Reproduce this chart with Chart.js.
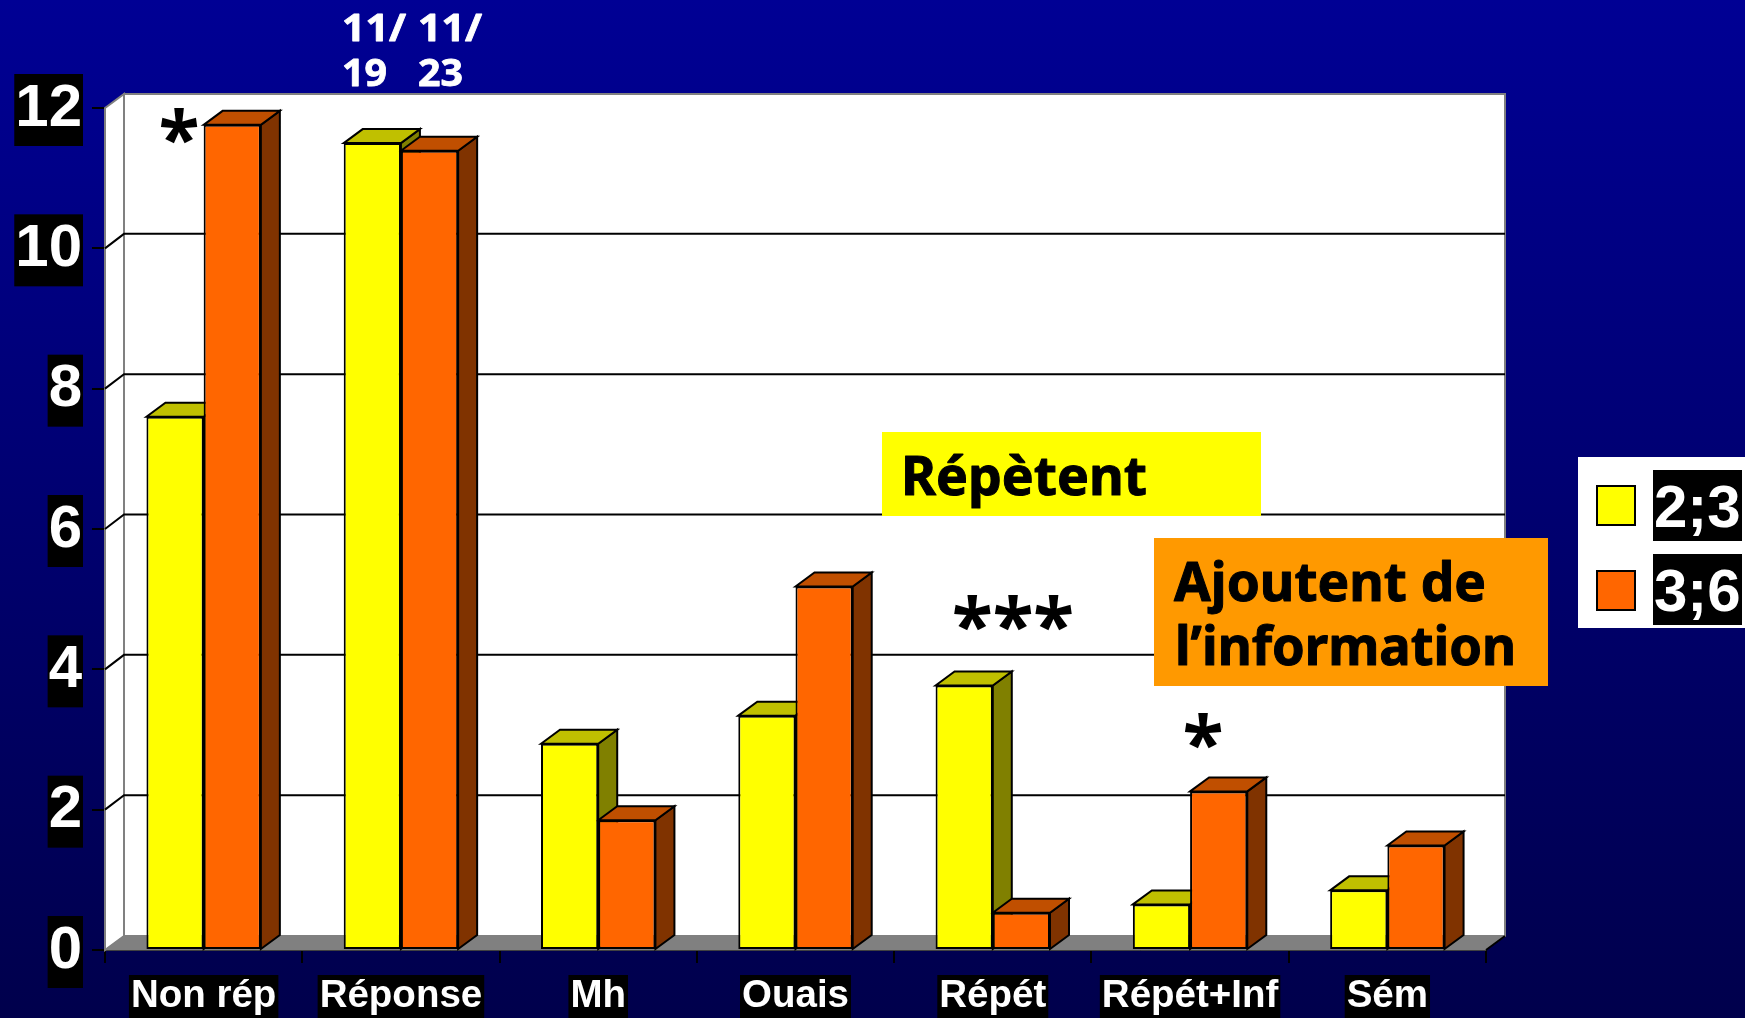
<!DOCTYPE html>
<html lang="fr">
<head>
<meta charset="utf-8">
<title>Répètent / Ajoutent de l'information</title>
<script src="https://cdn.jsdelivr.net/npm/chart.js@4"></script>
<style>
html,body{margin:0;padding:0;width:1745px;height:1018px;overflow:hidden;background:linear-gradient(180deg,#000094 0%,#00004c 100%);}
canvas{display:block;}
</style>
</head>
<body>
<canvas id="c" width="1745" height="1018"></canvas>
<script>
const categories = ['Non rép','Réponse','Mh','Ouais','Répét','Répét+Inf','Sém'];
const seriesNames = ['2;3','3;6'];
const values23 = [7.6,11.5,2.94,3.34,3.77,0.65,0.85];
const values36 = [11.76,11.39,1.85,5.18,0.53,2.26,1.49];
const yTicks = [0,2,4,6,8,10,12];

const YELLOW = {front:'#ffff00',top:'#c0c000',side:'#808000'};
const ORANGE = {front:'#ff6600',top:'#c04f00',side:'#803300'};
const DX = 19, DY = 14, GRID_DY = 14.5;
const ARIAL = '"Liberation Sans", Arial, sans-serif';
const TAHOMA = '"Noto Sans", sans-serif';

function poly(ctx, pts, fill, stroke, lw){
  ctx.beginPath();
  pts.forEach((p,i)=> i?ctx.lineTo(p[0],p[1]):ctx.moveTo(p[0],p[1]));
  ctx.closePath();
  if(fill){ctx.fillStyle=fill;ctx.fill();}
  if(stroke){ctx.strokeStyle=stroke;ctx.lineWidth=lw||2;ctx.lineJoin='miter';ctx.stroke();}
}
function fitText(ctx, text, x, baseline, width, font, color, heavy){
  ctx.save();
  ctx.font = font; ctx.fillStyle = color; ctx.textAlign='left'; ctx.textBaseline='alphabetic';
  const w = ctx.measureText(text).width;
  ctx.translate(x, baseline);
  ctx.scale(width/w, 1);
  ctx.fillText(text, 0, 0);
  if(heavy){ctx.strokeStyle=color;ctx.lineWidth=heavy;ctx.lineJoin='round';ctx.strokeText(text,0,0);}
  ctx.restore();
}

const scene3d = {
  id:'scene3d',
  afterLayout(chart){
    // nudge the cached tick labels and their backdrops down to sit as in the slide
    [['x',2],['y',1]].forEach(([k,dy])=>{
      chart.scales[k].getLabelItems(chart.chartArea).forEach(it=>{
        it.options.translation[1]+=dy;
        if(it.options.backdrop) it.options.backdrop.top+=dy;
      });
    });
  },
  beforeDatasetsDraw(chart){
    const {ctx, chartArea:a, scales:{y}} = chart;
    ctx.save();
    // walls and floor
    poly(ctx,[[a.left+DX,a.top-DY],[a.right+DX,a.top-DY],[a.right+DX,a.bottom-DY],[a.left+DX,a.bottom-DY]],'#ffffff','#808080',2);
    poly(ctx,[[a.left,a.top],[a.left+DX,a.top-DY],[a.left+DX,a.bottom-DY],[a.left,a.bottom]],'#ffffff','#808080',2);
    poly(ctx,[[a.left,a.bottom],[a.left+DX,a.bottom-DY],[a.right+DX,a.bottom-DY],[a.right,a.bottom]],'#808080','#808080',1);
    ctx.strokeStyle='#000';ctx.lineWidth=2;
    ctx.beginPath();ctx.moveTo(a.right,a.bottom);ctx.lineTo(a.right+DX,a.bottom-DY);ctx.stroke();
    // grid lines on the walls
    yTicks.forEach(v=>{
      if(v===0||v===12) return;
      const py=y.getPixelForValue(v);
      ctx.beginPath();ctx.moveTo(a.left,py);ctx.lineTo(a.left+DX,py-GRID_DY);ctx.lineTo(a.right+DX,py-GRID_DY);ctx.stroke();
    });
    // bar tops and sides
    const palettes=[YELLOW,ORANGE];
    categories.forEach((_,i)=>{
      [0,1].forEach(d=>{
        const b=chart.getDatasetMeta(d).data[i];
        const l=b.x-b.width/2, r=b.x+b.width/2, t=b.y, bt=b.base, pal=palettes[d];
        poly(ctx,[[r,bt],[r+DX,bt-DY],[r+DX,t-DY],[r,t]],pal.side,'#000',2);
        poly(ctx,[[l,t],[l+DX,t-DY],[r+DX,t-DY],[r,t]],pal.top,'#000',2);
      });
    });
    ctx.restore();
  },
  afterDraw(chart){
    const {ctx}=chart;
    ctx.save();
    // annotation boxes
    ctx.fillStyle='#ffff00';ctx.fillRect(882,432,379,84);
    fitText(ctx,'Répètent',901,495,246,'bold 53px '+TAHOMA,'#000',1);
    ctx.fillStyle='#ff9900';ctx.fillRect(1154,538,394,148);
    fitText(ctx,'Ajoutent de',1174,601,312,'bold 53px '+TAHOMA,'#000',1);
    fitText(ctx,'l’information',1175,665,341,'bold 53px '+TAHOMA,'#000',1);
    // significance marks
    ctx.fillStyle='#000';ctx.textAlign='center';ctx.textBaseline='alphabetic';
    ctx.font='bold 75px '+TAHOMA;
    ctx.fillText('*',179,165);
    ctx.fillText('***',1013,652);
    ctx.fillText('*',1203,770);
    // counts above the Réponse bars
    const f='bold 38px '+TAHOMA;
    fitText(ctx,'11/',342,41,64,f,'#fff',0.8);
    fitText(ctx,'19',342,86,45,f,'#fff',0.8);
    fitText(ctx,'11/',418,41,64,f,'#fff',0.8);
    fitText(ctx,'23',418,86,45,f,'#fff',0.8);
    // legend
    ctx.fillStyle='#fff';ctx.fillRect(1578,457,167,171);
    const rows=[[486,470],[571,554]];
    chart.data.datasets.forEach((ds,i)=>{
      ctx.fillStyle=ds.backgroundColor;ctx.fillRect(1597,rows[i][0],38,39);
      ctx.strokeStyle='#000';ctx.lineWidth=2;ctx.strokeRect(1597,rows[i][0],38,39);
      ctx.fillStyle='#000';ctx.fillRect(1653,rows[i][1],89,71);
      ctx.fillStyle='#fff';ctx.font='bold 60px '+ARIAL;ctx.textAlign='left';ctx.textBaseline='alphabetic';
      ctx.fillText(ds.label,1654,rows[i][1]+57);
    });
    ctx.restore();
  }
};

new Chart(document.getElementById('c'),{
  type:'bar',
  plugins:[scene3d],
  data:{
    labels:categories,
    datasets:[
      {label:seriesNames[0],data:values23,backgroundColor:YELLOW.front,borderColor:'#000',borderWidth:2,borderSkipped:false},
      {label:seriesNames[1],data:values36,backgroundColor:ORANGE.front,borderColor:'#000',borderWidth:2,borderSkipped:false}
    ]
  },
  options:{
    responsive:false,
    animation:false,
    devicePixelRatio:1,
    layout:{padding:{left:0,right:259,top:108,bottom:0}},
    plugins:{legend:{display:false},tooltip:{enabled:false}},
    datasets:{bar:{categoryPercentage:0.58,barPercentage:1}},
    scales:{
      x:{
        type:'category',
        offset:true,
        afterFit(s){s.height=68;},
        grid:{offset:true,drawOnChartArea:false,drawTicks:true,tickLength:13,color:'#000',lineWidth:2},
        border:{display:true,color:'#000',width:2},
        ticks:{color:'#fff',font:{family:ARIAL,weight:'bold',size:38.5},padding:8,autoSkip:false,maxRotation:0,
          showLabelBackdrop:true,backdropColor:'#000',backdropPadding:{x:2,y:0}}
      },
      y:{
        type:'linear',
        min:0,max:12,
        afterFit(s){s.width=105;},
        afterBuildTicks(s){s.ticks=yTicks.map(v=>({value:v}));},
        grid:{drawOnChartArea:false,drawTicks:true,tickLength:13,color:'#000',lineWidth:2},
        border:{display:false},
        ticks:{color:'#fff',font:{family:ARIAL,weight:'bold',size:60},padding:10,
          showLabelBackdrop:true,backdropColor:'#000',backdropPadding:{x:1,y:0}}
      }
    }
  }
});
</script>
</body>
</html>
